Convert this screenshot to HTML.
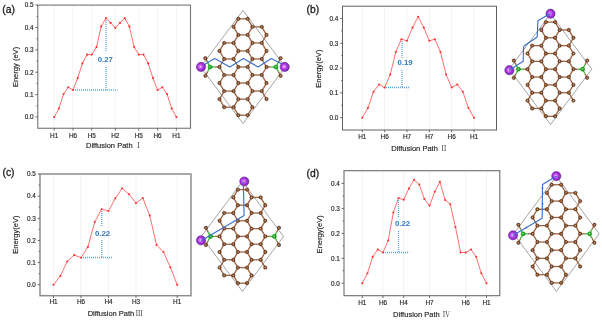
<!DOCTYPE html>
<html><head><meta charset="utf-8"><title>Diffusion paths</title>
<style>
html,body{margin:0;padding:0;background:#fff;}
body{width:602px;height:320px;overflow:hidden;}
svg{display:block;will-change:transform;font-family:'Liberation Sans', 'Noto Serif CJK SC', sans-serif;}
</style></head><body>
<svg width="602" height="320" viewBox="0 0 602 320">
<defs>
<radialGradient id="gc" cx="0.5" cy="0.5" r="0.55"><stop offset="0" stop-color="#e4bc9c"/><stop offset="0.3" stop-color="#ac6e44"/><stop offset="0.7" stop-color="#824a26"/><stop offset="1" stop-color="#5c3218"/></radialGradient>
<radialGradient id="gb" cx="0.45" cy="0.45" r="0.6"><stop offset="0" stop-color="#86e886"/><stop offset="0.45" stop-color="#27b927"/><stop offset="1" stop-color="#108210"/></radialGradient>
<radialGradient id="gp" cx="0.44" cy="0.48" r="0.62"><stop offset="0" stop-color="#ffdcff"/><stop offset="0.18" stop-color="#e27af6"/><stop offset="0.5" stop-color="#a634e0"/><stop offset="1" stop-color="#7a1fb6"/></radialGradient>
</defs>
<rect width="602" height="320" fill="#fff"/>
<g>
<line x1="54.2" y1="5.1" x2="54.2" y2="128.25" stroke="#eaeaea" stroke-width="0.6"/>
<line x1="73" y1="5.1" x2="73" y2="128.25" stroke="#eaeaea" stroke-width="0.6"/>
<line x1="91.8" y1="5.1" x2="91.8" y2="128.25" stroke="#eaeaea" stroke-width="0.6"/>
<line x1="115.3" y1="5.1" x2="115.3" y2="128.25" stroke="#eaeaea" stroke-width="0.6"/>
<line x1="138.8" y1="5.1" x2="138.8" y2="128.25" stroke="#eaeaea" stroke-width="0.6"/>
<line x1="157.6" y1="5.1" x2="157.6" y2="128.25" stroke="#eaeaea" stroke-width="0.6"/>
<line x1="176.4" y1="5.1" x2="176.4" y2="128.25" stroke="#eaeaea" stroke-width="0.6"/>
<line x1="73" y1="90.1" x2="117.5" y2="90.1" stroke="#5aa6e6" stroke-width="1.5" stroke-dasharray="1 1"/>
<line x1="106" y1="18" x2="106" y2="51.5" stroke="#5aa6e6" stroke-width="1.35" stroke-dasharray="1 1"/>
<line x1="106" y1="67" x2="106" y2="90.1" stroke="#5aa6e6" stroke-width="1.35" stroke-dasharray="1 1"/>
<text x="105.3" y="62" font-size="7.8" font-weight="bold" fill="#2f78be" text-anchor="middle">0.27</text>
<polyline fill="none" stroke="#ff4b4b" stroke-width="0.8" stroke-linejoin="round" points="54.2,117.1 58.9,108.5 63.6,94 68.3,87.3 73,90 77.7,78 82.4,63.4 87.1,54.6 91.8,54.6 96.5,47.1 101.2,26.4 105.9,18.1 110.6,22.9 115.3,27.9 120,22.9 124.7,18.1 129.4,26.4 134.1,47.1 138.8,54.6 143.5,54.6 148.2,63.4 152.9,78 157.6,90 162.3,87.3 167,94 171.7,108.5 176.4,117.1"/>
<circle cx="54.2" cy="117.1" r="1.05" fill="#ff2d2d"/>
<circle cx="58.9" cy="108.5" r="1.05" fill="#ff2d2d"/>
<circle cx="63.6" cy="94" r="1.05" fill="#ff2d2d"/>
<circle cx="68.3" cy="87.3" r="1.05" fill="#ff2d2d"/>
<circle cx="73" cy="90" r="1.05" fill="#ff2d2d"/>
<circle cx="77.7" cy="78" r="1.05" fill="#ff2d2d"/>
<circle cx="82.4" cy="63.4" r="1.05" fill="#ff2d2d"/>
<circle cx="87.1" cy="54.6" r="1.05" fill="#ff2d2d"/>
<circle cx="91.8" cy="54.6" r="1.05" fill="#ff2d2d"/>
<circle cx="96.5" cy="47.1" r="1.05" fill="#ff2d2d"/>
<circle cx="101.2" cy="26.4" r="1.05" fill="#ff2d2d"/>
<circle cx="105.9" cy="18.1" r="1.05" fill="#ff2d2d"/>
<circle cx="110.6" cy="22.9" r="1.05" fill="#ff2d2d"/>
<circle cx="115.3" cy="27.9" r="1.05" fill="#ff2d2d"/>
<circle cx="120" cy="22.9" r="1.05" fill="#ff2d2d"/>
<circle cx="124.7" cy="18.1" r="1.05" fill="#ff2d2d"/>
<circle cx="129.4" cy="26.4" r="1.05" fill="#ff2d2d"/>
<circle cx="134.1" cy="47.1" r="1.05" fill="#ff2d2d"/>
<circle cx="138.8" cy="54.6" r="1.05" fill="#ff2d2d"/>
<circle cx="143.5" cy="54.6" r="1.05" fill="#ff2d2d"/>
<circle cx="148.2" cy="63.4" r="1.05" fill="#ff2d2d"/>
<circle cx="152.9" cy="78" r="1.05" fill="#ff2d2d"/>
<circle cx="157.6" cy="90" r="1.05" fill="#ff2d2d"/>
<circle cx="162.3" cy="87.3" r="1.05" fill="#ff2d2d"/>
<circle cx="167" cy="94" r="1.05" fill="#ff2d2d"/>
<circle cx="171.7" cy="108.5" r="1.05" fill="#ff2d2d"/>
<circle cx="176.4" cy="117.1" r="1.05" fill="#ff2d2d"/>
<rect x="37.8" y="5.1" width="152.7" height="123.15" fill="none" stroke="#757575" stroke-width="1.1"/>
<line x1="35.4" y1="117" x2="37.8" y2="117" stroke="#5c5c5c" stroke-width="0.9"/>
<text x="33.6" y="119.3" font-size="6.4" fill="#242424" stroke="#242424" stroke-width="0.15" text-anchor="end">0.0</text>
<line x1="35.4" y1="94.63" x2="37.8" y2="94.63" stroke="#5c5c5c" stroke-width="0.9"/>
<text x="33.6" y="96.93" font-size="6.4" fill="#242424" stroke="#242424" stroke-width="0.15" text-anchor="end">0.1</text>
<line x1="35.4" y1="72.26" x2="37.8" y2="72.26" stroke="#5c5c5c" stroke-width="0.9"/>
<text x="33.6" y="74.56" font-size="6.4" fill="#242424" stroke="#242424" stroke-width="0.15" text-anchor="end">0.2</text>
<line x1="35.4" y1="49.89" x2="37.8" y2="49.89" stroke="#5c5c5c" stroke-width="0.9"/>
<text x="33.6" y="52.19" font-size="6.4" fill="#242424" stroke="#242424" stroke-width="0.15" text-anchor="end">0.3</text>
<line x1="35.4" y1="27.52" x2="37.8" y2="27.52" stroke="#5c5c5c" stroke-width="0.9"/>
<text x="33.6" y="29.82" font-size="6.4" fill="#242424" stroke="#242424" stroke-width="0.15" text-anchor="end">0.4</text>
<line x1="35.4" y1="5.15" x2="37.8" y2="5.15" stroke="#5c5c5c" stroke-width="0.9"/>
<text x="33.6" y="7.45" font-size="6.4" fill="#242424" stroke="#242424" stroke-width="0.15" text-anchor="end">0.5</text>
<line x1="36.4" y1="105.81" x2="37.8" y2="105.81" stroke="#5c5c5c" stroke-width="0.8"/>
<line x1="36.4" y1="83.44" x2="37.8" y2="83.44" stroke="#5c5c5c" stroke-width="0.8"/>
<line x1="36.4" y1="61.07" x2="37.8" y2="61.07" stroke="#5c5c5c" stroke-width="0.8"/>
<line x1="36.4" y1="38.7" x2="37.8" y2="38.7" stroke="#5c5c5c" stroke-width="0.8"/>
<line x1="36.4" y1="16.33" x2="37.8" y2="16.33" stroke="#5c5c5c" stroke-width="0.8"/>
<line x1="54.2" y1="128.25" x2="54.2" y2="130.55" stroke="#5c5c5c" stroke-width="0.9"/>
<text x="54.2" y="137.5" font-size="6.4" fill="#242424" stroke="#242424" stroke-width="0.15" text-anchor="middle">H1</text>
<line x1="73" y1="128.25" x2="73" y2="130.55" stroke="#5c5c5c" stroke-width="0.9"/>
<text x="73" y="137.5" font-size="6.4" fill="#242424" stroke="#242424" stroke-width="0.15" text-anchor="middle">H6</text>
<line x1="91.8" y1="128.25" x2="91.8" y2="130.55" stroke="#5c5c5c" stroke-width="0.9"/>
<text x="91.8" y="137.5" font-size="6.4" fill="#242424" stroke="#242424" stroke-width="0.15" text-anchor="middle">H5</text>
<line x1="115.3" y1="128.25" x2="115.3" y2="130.55" stroke="#5c5c5c" stroke-width="0.9"/>
<text x="115.3" y="137.5" font-size="6.4" fill="#242424" stroke="#242424" stroke-width="0.15" text-anchor="middle">H2</text>
<line x1="138.8" y1="128.25" x2="138.8" y2="130.55" stroke="#5c5c5c" stroke-width="0.9"/>
<text x="138.8" y="137.5" font-size="6.4" fill="#242424" stroke="#242424" stroke-width="0.15" text-anchor="middle">H5</text>
<line x1="157.6" y1="128.25" x2="157.6" y2="130.55" stroke="#5c5c5c" stroke-width="0.9"/>
<text x="157.6" y="137.5" font-size="6.4" fill="#242424" stroke="#242424" stroke-width="0.15" text-anchor="middle">H6</text>
<line x1="176.4" y1="128.25" x2="176.4" y2="130.55" stroke="#5c5c5c" stroke-width="0.9"/>
<text x="176.4" y="137.5" font-size="6.4" fill="#242424" stroke="#242424" stroke-width="0.15" text-anchor="middle">H1</text>
<text x="86" y="147.75" font-size="7.5" fill="#242424" stroke="#242424" stroke-width="0.15">Diffusion Path</text>
<text x="138.5" y="147.75" font-size="7.3" fill="#333" text-anchor="middle">Ⅰ</text>
<text transform="translate(17.9,66.97) rotate(-90)" font-size="7.55" fill="#242424" stroke="#242424" stroke-width="0.15" text-anchor="middle">Energy (eV)</text>
<text x="2.3" y="12.7" font-size="10.3" fill="#1c1c1c" stroke="#1c1c1c" stroke-width="0.3">(a)</text>
</g>
<g>
<line x1="362.3" y1="6.2" x2="362.3" y2="130" stroke="#eaeaea" stroke-width="0.6"/>
<line x1="384.64" y1="6.2" x2="384.64" y2="130" stroke="#eaeaea" stroke-width="0.6"/>
<line x1="406.98" y1="6.2" x2="406.98" y2="130" stroke="#eaeaea" stroke-width="0.6"/>
<line x1="429.32" y1="6.2" x2="429.32" y2="130" stroke="#eaeaea" stroke-width="0.6"/>
<line x1="451.66" y1="6.2" x2="451.66" y2="130" stroke="#eaeaea" stroke-width="0.6"/>
<line x1="474" y1="6.2" x2="474" y2="130" stroke="#eaeaea" stroke-width="0.6"/>
<line x1="384" y1="87.5" x2="409.25" y2="87.5" stroke="#5aa6e6" stroke-width="1.5" stroke-dasharray="1 1"/>
<line x1="402" y1="39" x2="402" y2="58" stroke="#5aa6e6" stroke-width="1.35" stroke-dasharray="1 1"/>
<line x1="402" y1="70" x2="402" y2="87.5" stroke="#5aa6e6" stroke-width="1.35" stroke-dasharray="1 1"/>
<text x="405.1" y="65.1" font-size="7.8" font-weight="bold" fill="#2f78be" text-anchor="middle">0.19</text>
<polyline fill="none" stroke="#ff4b4b" stroke-width="0.8" stroke-linejoin="round" points="362.3,117.75 367.88,108 373.47,91.75 379.06,84.5 384.64,87.5 390.23,74.5 395.81,52 401.39,39.25 406.98,40.75 412.56,27.5 418.15,16.75 423.74,27.5 429.32,40.75 434.9,39.25 440.49,52 446.07,74.5 451.66,87.5 457.25,84.5 462.83,91.75 468.41,108 474,117.75"/>
<circle cx="362.3" cy="117.75" r="1.05" fill="#ff2d2d"/>
<circle cx="367.88" cy="108" r="1.05" fill="#ff2d2d"/>
<circle cx="373.47" cy="91.75" r="1.05" fill="#ff2d2d"/>
<circle cx="379.06" cy="84.5" r="1.05" fill="#ff2d2d"/>
<circle cx="384.64" cy="87.5" r="1.05" fill="#ff2d2d"/>
<circle cx="390.23" cy="74.5" r="1.05" fill="#ff2d2d"/>
<circle cx="395.81" cy="52" r="1.05" fill="#ff2d2d"/>
<circle cx="401.39" cy="39.25" r="1.05" fill="#ff2d2d"/>
<circle cx="406.98" cy="40.75" r="1.05" fill="#ff2d2d"/>
<circle cx="412.56" cy="27.5" r="1.05" fill="#ff2d2d"/>
<circle cx="418.15" cy="16.75" r="1.05" fill="#ff2d2d"/>
<circle cx="423.74" cy="27.5" r="1.05" fill="#ff2d2d"/>
<circle cx="429.32" cy="40.75" r="1.05" fill="#ff2d2d"/>
<circle cx="434.9" cy="39.25" r="1.05" fill="#ff2d2d"/>
<circle cx="440.49" cy="52" r="1.05" fill="#ff2d2d"/>
<circle cx="446.07" cy="74.5" r="1.05" fill="#ff2d2d"/>
<circle cx="451.66" cy="87.5" r="1.05" fill="#ff2d2d"/>
<circle cx="457.25" cy="84.5" r="1.05" fill="#ff2d2d"/>
<circle cx="462.83" cy="91.75" r="1.05" fill="#ff2d2d"/>
<circle cx="468.41" cy="108" r="1.05" fill="#ff2d2d"/>
<circle cx="474" cy="117.75" r="1.05" fill="#ff2d2d"/>
<rect x="342.5" y="6.2" width="154" height="123.8" fill="none" stroke="#606060" stroke-width="1.0"/>
<line x1="340.1" y1="117.7" x2="342.5" y2="117.7" stroke="#5c5c5c" stroke-width="0.9"/>
<text x="338.3" y="120" font-size="6.4" fill="#242424" stroke="#242424" stroke-width="0.15" text-anchor="end">0.0</text>
<line x1="340.1" y1="92.9" x2="342.5" y2="92.9" stroke="#5c5c5c" stroke-width="0.9"/>
<text x="338.3" y="95.2" font-size="6.4" fill="#242424" stroke="#242424" stroke-width="0.15" text-anchor="end">0.1</text>
<line x1="340.1" y1="68.1" x2="342.5" y2="68.1" stroke="#5c5c5c" stroke-width="0.9"/>
<text x="338.3" y="70.4" font-size="6.4" fill="#242424" stroke="#242424" stroke-width="0.15" text-anchor="end">0.2</text>
<line x1="340.1" y1="43.3" x2="342.5" y2="43.3" stroke="#5c5c5c" stroke-width="0.9"/>
<text x="338.3" y="45.6" font-size="6.4" fill="#242424" stroke="#242424" stroke-width="0.15" text-anchor="end">0.3</text>
<line x1="340.1" y1="18.5" x2="342.5" y2="18.5" stroke="#5c5c5c" stroke-width="0.9"/>
<text x="338.3" y="20.8" font-size="6.4" fill="#242424" stroke="#242424" stroke-width="0.15" text-anchor="end">0.4</text>
<line x1="341.1" y1="105.3" x2="342.5" y2="105.3" stroke="#5c5c5c" stroke-width="0.8"/>
<line x1="341.1" y1="80.5" x2="342.5" y2="80.5" stroke="#5c5c5c" stroke-width="0.8"/>
<line x1="341.1" y1="55.7" x2="342.5" y2="55.7" stroke="#5c5c5c" stroke-width="0.8"/>
<line x1="341.1" y1="30.9" x2="342.5" y2="30.9" stroke="#5c5c5c" stroke-width="0.8"/>
<line x1="362.3" y1="130" x2="362.3" y2="132.3" stroke="#5c5c5c" stroke-width="0.9"/>
<text x="362.3" y="139.25" font-size="6.4" fill="#242424" stroke="#242424" stroke-width="0.15" text-anchor="middle">H1</text>
<line x1="384.64" y1="130" x2="384.64" y2="132.3" stroke="#5c5c5c" stroke-width="0.9"/>
<text x="384.64" y="139.25" font-size="6.4" fill="#242424" stroke="#242424" stroke-width="0.15" text-anchor="middle">H6</text>
<line x1="406.98" y1="130" x2="406.98" y2="132.3" stroke="#5c5c5c" stroke-width="0.9"/>
<text x="406.98" y="139.25" font-size="6.4" fill="#242424" stroke="#242424" stroke-width="0.15" text-anchor="middle">H7</text>
<line x1="429.32" y1="130" x2="429.32" y2="132.3" stroke="#5c5c5c" stroke-width="0.9"/>
<text x="429.32" y="139.25" font-size="6.4" fill="#242424" stroke="#242424" stroke-width="0.15" text-anchor="middle">H7</text>
<line x1="451.66" y1="130" x2="451.66" y2="132.3" stroke="#5c5c5c" stroke-width="0.9"/>
<text x="451.66" y="139.25" font-size="6.4" fill="#242424" stroke="#242424" stroke-width="0.15" text-anchor="middle">H6</text>
<line x1="474" y1="130" x2="474" y2="132.3" stroke="#5c5c5c" stroke-width="0.9"/>
<text x="474" y="139.25" font-size="6.4" fill="#242424" stroke="#242424" stroke-width="0.15" text-anchor="middle">H1</text>
<text x="391.25" y="151.1" font-size="7.5" fill="#242424" stroke="#242424" stroke-width="0.15">Diffusion Path</text>
<text x="444" y="151.1" font-size="7.3" fill="#333" text-anchor="middle">Ⅱ</text>
<text transform="translate(320.6,68.7) rotate(-90)" font-size="7.55" fill="#242424" stroke="#242424" stroke-width="0.15" text-anchor="middle">Energy(eV)</text>
<text x="306.5" y="13" font-size="10.3" fill="#1c1c1c" stroke="#1c1c1c" stroke-width="0.3">(b)</text>
</g>
<g>
<line x1="53.5" y1="174" x2="53.5" y2="295.7" stroke="#eaeaea" stroke-width="0.6"/>
<line x1="80.99" y1="174" x2="80.99" y2="295.7" stroke="#eaeaea" stroke-width="0.6"/>
<line x1="108.48" y1="174" x2="108.48" y2="295.7" stroke="#eaeaea" stroke-width="0.6"/>
<line x1="135.97" y1="174" x2="135.97" y2="295.7" stroke="#eaeaea" stroke-width="0.6"/>
<line x1="177.2" y1="174" x2="177.2" y2="295.7" stroke="#eaeaea" stroke-width="0.6"/>
<line x1="81" y1="257.5" x2="113" y2="257.5" stroke="#5aa6e6" stroke-width="1.5" stroke-dasharray="1 1"/>
<line x1="101.75" y1="209" x2="101.75" y2="227" stroke="#5aa6e6" stroke-width="1.35" stroke-dasharray="1 1"/>
<line x1="101.75" y1="240" x2="101.75" y2="257.5" stroke="#5aa6e6" stroke-width="1.35" stroke-dasharray="1 1"/>
<text x="102.5" y="236.2" font-size="7.8" font-weight="bold" fill="#2f78be" text-anchor="middle">0.22</text>
<polyline fill="none" stroke="#ff4b4b" stroke-width="0.8" stroke-linejoin="round" points="53.5,284.8 60.37,276 67.24,261.5 74.12,255 80.99,257.7 87.86,247 94.73,222 101.61,209.2 108.48,211 115.35,198.3 122.22,188.3 129.09,194.3 135.97,203 142.84,198 149.71,215.5 156.58,245 163.46,252 170.33,267.2 177.2,284.8"/>
<circle cx="53.5" cy="284.8" r="1.05" fill="#ff2d2d"/>
<circle cx="60.37" cy="276" r="1.05" fill="#ff2d2d"/>
<circle cx="67.24" cy="261.5" r="1.05" fill="#ff2d2d"/>
<circle cx="74.12" cy="255" r="1.05" fill="#ff2d2d"/>
<circle cx="80.99" cy="257.7" r="1.05" fill="#ff2d2d"/>
<circle cx="87.86" cy="247" r="1.05" fill="#ff2d2d"/>
<circle cx="94.73" cy="222" r="1.05" fill="#ff2d2d"/>
<circle cx="101.61" cy="209.2" r="1.05" fill="#ff2d2d"/>
<circle cx="108.48" cy="211" r="1.05" fill="#ff2d2d"/>
<circle cx="115.35" cy="198.3" r="1.05" fill="#ff2d2d"/>
<circle cx="122.22" cy="188.3" r="1.05" fill="#ff2d2d"/>
<circle cx="129.09" cy="194.3" r="1.05" fill="#ff2d2d"/>
<circle cx="135.97" cy="203" r="1.05" fill="#ff2d2d"/>
<circle cx="142.84" cy="198" r="1.05" fill="#ff2d2d"/>
<circle cx="149.71" cy="215.5" r="1.05" fill="#ff2d2d"/>
<circle cx="156.58" cy="245" r="1.05" fill="#ff2d2d"/>
<circle cx="163.46" cy="252" r="1.05" fill="#ff2d2d"/>
<circle cx="170.33" cy="267.2" r="1.05" fill="#ff2d2d"/>
<circle cx="177.2" cy="284.8" r="1.05" fill="#ff2d2d"/>
<rect x="40" y="174" width="151" height="121.7" fill="none" stroke="#8a8a8a" stroke-width="1.45"/>
<line x1="37.6" y1="284.7" x2="40" y2="284.7" stroke="#5c5c5c" stroke-width="0.9"/>
<text x="35.8" y="287" font-size="6.4" fill="#242424" stroke="#242424" stroke-width="0.15" text-anchor="end">0.0</text>
<line x1="37.6" y1="262.56" x2="40" y2="262.56" stroke="#5c5c5c" stroke-width="0.9"/>
<text x="35.8" y="264.86" font-size="6.4" fill="#242424" stroke="#242424" stroke-width="0.15" text-anchor="end">0.1</text>
<line x1="37.6" y1="240.42" x2="40" y2="240.42" stroke="#5c5c5c" stroke-width="0.9"/>
<text x="35.8" y="242.72" font-size="6.4" fill="#242424" stroke="#242424" stroke-width="0.15" text-anchor="end">0.2</text>
<line x1="37.6" y1="218.28" x2="40" y2="218.28" stroke="#5c5c5c" stroke-width="0.9"/>
<text x="35.8" y="220.58" font-size="6.4" fill="#242424" stroke="#242424" stroke-width="0.15" text-anchor="end">0.3</text>
<line x1="37.6" y1="196.14" x2="40" y2="196.14" stroke="#5c5c5c" stroke-width="0.9"/>
<text x="35.8" y="198.44" font-size="6.4" fill="#242424" stroke="#242424" stroke-width="0.15" text-anchor="end">0.4</text>
<line x1="37.6" y1="174" x2="40" y2="174" stroke="#5c5c5c" stroke-width="0.9"/>
<text x="35.8" y="176.3" font-size="6.4" fill="#242424" stroke="#242424" stroke-width="0.15" text-anchor="end">0.5</text>
<line x1="38.6" y1="273.63" x2="40" y2="273.63" stroke="#5c5c5c" stroke-width="0.8"/>
<line x1="38.6" y1="251.49" x2="40" y2="251.49" stroke="#5c5c5c" stroke-width="0.8"/>
<line x1="38.6" y1="229.35" x2="40" y2="229.35" stroke="#5c5c5c" stroke-width="0.8"/>
<line x1="38.6" y1="207.21" x2="40" y2="207.21" stroke="#5c5c5c" stroke-width="0.8"/>
<line x1="38.6" y1="185.07" x2="40" y2="185.07" stroke="#5c5c5c" stroke-width="0.8"/>
<line x1="53.5" y1="295.7" x2="53.5" y2="298" stroke="#5c5c5c" stroke-width="0.9"/>
<text x="53.5" y="304.3" font-size="6.4" fill="#242424" stroke="#242424" stroke-width="0.15" text-anchor="middle">H1</text>
<line x1="80.99" y1="295.7" x2="80.99" y2="298" stroke="#5c5c5c" stroke-width="0.9"/>
<text x="80.99" y="304.3" font-size="6.4" fill="#242424" stroke="#242424" stroke-width="0.15" text-anchor="middle">H6</text>
<line x1="108.48" y1="295.7" x2="108.48" y2="298" stroke="#5c5c5c" stroke-width="0.9"/>
<text x="108.48" y="304.3" font-size="6.4" fill="#242424" stroke="#242424" stroke-width="0.15" text-anchor="middle">H4</text>
<line x1="135.97" y1="295.7" x2="135.97" y2="298" stroke="#5c5c5c" stroke-width="0.9"/>
<text x="135.97" y="304.3" font-size="6.4" fill="#242424" stroke="#242424" stroke-width="0.15" text-anchor="middle">H3</text>
<line x1="177.2" y1="295.7" x2="177.2" y2="298" stroke="#5c5c5c" stroke-width="0.9"/>
<text x="177.2" y="304.3" font-size="6.4" fill="#242424" stroke="#242424" stroke-width="0.15" text-anchor="middle">H1</text>
<text x="87.7" y="316.15" font-size="7.5" fill="#242424" stroke="#242424" stroke-width="0.15">Diffusion Path</text>
<text x="139.2" y="316.15" font-size="7.3" fill="#333" text-anchor="middle">Ⅲ</text>
<text transform="translate(18.4,234.65) rotate(-90)" font-size="7.55" fill="#242424" stroke="#242424" stroke-width="0.15" text-anchor="middle">Energy(eV)</text>
<text x="2.5" y="176.4" font-size="10.3" fill="#1c1c1c" stroke="#1c1c1c" stroke-width="0.3">(c)</text>
</g>
<g>
<line x1="362.3" y1="170.7" x2="362.3" y2="295.7" stroke="#eaeaea" stroke-width="0.6"/>
<line x1="383" y1="170.7" x2="383" y2="295.7" stroke="#eaeaea" stroke-width="0.6"/>
<line x1="403.7" y1="170.7" x2="403.7" y2="295.7" stroke="#eaeaea" stroke-width="0.6"/>
<line x1="429.57" y1="170.7" x2="429.57" y2="295.7" stroke="#eaeaea" stroke-width="0.6"/>
<line x1="465.8" y1="170.7" x2="465.8" y2="295.7" stroke="#eaeaea" stroke-width="0.6"/>
<line x1="486.5" y1="170.7" x2="486.5" y2="295.7" stroke="#eaeaea" stroke-width="0.6"/>
<line x1="383" y1="252.5" x2="409.25" y2="252.5" stroke="#5aa6e6" stroke-width="1.5" stroke-dasharray="1 1"/>
<line x1="398.5" y1="198" x2="398.5" y2="217" stroke="#5aa6e6" stroke-width="1.35" stroke-dasharray="1 1"/>
<line x1="398.5" y1="231" x2="398.5" y2="252.5" stroke="#5aa6e6" stroke-width="1.35" stroke-dasharray="1 1"/>
<text x="402.5" y="226.1" font-size="7.8" font-weight="bold" fill="#2f78be" text-anchor="middle">0.22</text>
<polyline fill="none" stroke="#ff4b4b" stroke-width="0.8" stroke-linejoin="round" points="362.3,283.25 367.48,273.25 372.65,256.75 377.82,249.5 383,252.5 388.18,240.5 393.35,212.5 398.53,198 403.7,199.75 408.88,188.5 414.05,179.75 419.23,184.5 424.4,199 429.57,205.75 434.75,191.75 439.93,181.75 445.1,200 450.27,204.25 455.45,227 460.62,252.5 465.8,252.5 470.98,249.5 476.15,256.75 481.32,273.25 486.5,283.25"/>
<circle cx="362.3" cy="283.25" r="1.05" fill="#ff2d2d"/>
<circle cx="367.48" cy="273.25" r="1.05" fill="#ff2d2d"/>
<circle cx="372.65" cy="256.75" r="1.05" fill="#ff2d2d"/>
<circle cx="377.82" cy="249.5" r="1.05" fill="#ff2d2d"/>
<circle cx="383" cy="252.5" r="1.05" fill="#ff2d2d"/>
<circle cx="388.18" cy="240.5" r="1.05" fill="#ff2d2d"/>
<circle cx="393.35" cy="212.5" r="1.05" fill="#ff2d2d"/>
<circle cx="398.53" cy="198" r="1.05" fill="#ff2d2d"/>
<circle cx="403.7" cy="199.75" r="1.05" fill="#ff2d2d"/>
<circle cx="408.88" cy="188.5" r="1.05" fill="#ff2d2d"/>
<circle cx="414.05" cy="179.75" r="1.05" fill="#ff2d2d"/>
<circle cx="419.23" cy="184.5" r="1.05" fill="#ff2d2d"/>
<circle cx="424.4" cy="199" r="1.05" fill="#ff2d2d"/>
<circle cx="429.57" cy="205.75" r="1.05" fill="#ff2d2d"/>
<circle cx="434.75" cy="191.75" r="1.05" fill="#ff2d2d"/>
<circle cx="439.93" cy="181.75" r="1.05" fill="#ff2d2d"/>
<circle cx="445.1" cy="200" r="1.05" fill="#ff2d2d"/>
<circle cx="450.27" cy="204.25" r="1.05" fill="#ff2d2d"/>
<circle cx="455.45" cy="227" r="1.05" fill="#ff2d2d"/>
<circle cx="460.62" cy="252.5" r="1.05" fill="#ff2d2d"/>
<circle cx="465.8" cy="252.5" r="1.05" fill="#ff2d2d"/>
<circle cx="470.98" cy="249.5" r="1.05" fill="#ff2d2d"/>
<circle cx="476.15" cy="256.75" r="1.05" fill="#ff2d2d"/>
<circle cx="481.32" cy="273.25" r="1.05" fill="#ff2d2d"/>
<circle cx="486.5" cy="283.25" r="1.05" fill="#ff2d2d"/>
<rect x="344" y="170.7" width="155.8" height="125" fill="none" stroke="#6c6c6c" stroke-width="1.1"/>
<line x1="341.6" y1="283.2" x2="344" y2="283.2" stroke="#5c5c5c" stroke-width="0.9"/>
<text x="339.8" y="285.5" font-size="6.4" fill="#242424" stroke="#242424" stroke-width="0.15" text-anchor="end">0.0</text>
<line x1="341.6" y1="258.27" x2="344" y2="258.27" stroke="#5c5c5c" stroke-width="0.9"/>
<text x="339.8" y="260.57" font-size="6.4" fill="#242424" stroke="#242424" stroke-width="0.15" text-anchor="end">0.1</text>
<line x1="341.6" y1="233.34" x2="344" y2="233.34" stroke="#5c5c5c" stroke-width="0.9"/>
<text x="339.8" y="235.64" font-size="6.4" fill="#242424" stroke="#242424" stroke-width="0.15" text-anchor="end">0.2</text>
<line x1="341.6" y1="208.41" x2="344" y2="208.41" stroke="#5c5c5c" stroke-width="0.9"/>
<text x="339.8" y="210.71" font-size="6.4" fill="#242424" stroke="#242424" stroke-width="0.15" text-anchor="end">0.3</text>
<line x1="341.6" y1="183.48" x2="344" y2="183.48" stroke="#5c5c5c" stroke-width="0.9"/>
<text x="339.8" y="185.78" font-size="6.4" fill="#242424" stroke="#242424" stroke-width="0.15" text-anchor="end">0.4</text>
<line x1="342.6" y1="270.74" x2="344" y2="270.74" stroke="#5c5c5c" stroke-width="0.8"/>
<line x1="342.6" y1="245.81" x2="344" y2="245.81" stroke="#5c5c5c" stroke-width="0.8"/>
<line x1="342.6" y1="220.88" x2="344" y2="220.88" stroke="#5c5c5c" stroke-width="0.8"/>
<line x1="342.6" y1="195.94" x2="344" y2="195.94" stroke="#5c5c5c" stroke-width="0.8"/>
<line x1="362.3" y1="295.7" x2="362.3" y2="298" stroke="#5c5c5c" stroke-width="0.9"/>
<text x="362.3" y="304.6" font-size="6.4" fill="#242424" stroke="#242424" stroke-width="0.15" text-anchor="middle">H1</text>
<line x1="383" y1="295.7" x2="383" y2="298" stroke="#5c5c5c" stroke-width="0.9"/>
<text x="383" y="304.6" font-size="6.4" fill="#242424" stroke="#242424" stroke-width="0.15" text-anchor="middle">H6</text>
<line x1="403.7" y1="295.7" x2="403.7" y2="298" stroke="#5c5c5c" stroke-width="0.9"/>
<text x="403.7" y="304.6" font-size="6.4" fill="#242424" stroke="#242424" stroke-width="0.15" text-anchor="middle">H4</text>
<line x1="429.57" y1="295.7" x2="429.57" y2="298" stroke="#5c5c5c" stroke-width="0.9"/>
<text x="429.57" y="304.6" font-size="6.4" fill="#242424" stroke="#242424" stroke-width="0.15" text-anchor="middle">H7</text>
<line x1="465.8" y1="295.7" x2="465.8" y2="298" stroke="#5c5c5c" stroke-width="0.9"/>
<text x="465.8" y="304.6" font-size="6.4" fill="#242424" stroke="#242424" stroke-width="0.15" text-anchor="middle">H6</text>
<line x1="486.5" y1="295.7" x2="486.5" y2="298" stroke="#5c5c5c" stroke-width="0.9"/>
<text x="486.5" y="304.6" font-size="6.4" fill="#242424" stroke="#242424" stroke-width="0.15" text-anchor="middle">H1</text>
<text x="393.1" y="316.8" font-size="7.5" fill="#242424" stroke="#242424" stroke-width="0.15">Diffusion Path</text>
<text x="446.5" y="316.8" font-size="7.3" fill="#333" text-anchor="middle">Ⅳ</text>
<text transform="translate(322.4,234.3) rotate(-90)" font-size="7.55" fill="#242424" stroke="#242424" stroke-width="0.15" text-anchor="middle">Energy(eV)</text>
<text x="306.5" y="177" font-size="10.3" fill="#1c1c1c" stroke="#1c1c1c" stroke-width="0.3">(d)</text>
</g>
<g>
<polygon points="243,10.39 285.3,67 243,123.61 200.7,67" fill="none" stroke="#5a5a5a" stroke-width="0.55"/>
<line x1="238.3" y1="18.82" x2="247.7" y2="18.82" stroke="#9c6442" stroke-width="1.3"/>
<line x1="238.3" y1="18.82" x2="233.6" y2="26.85" stroke="#9c6442" stroke-width="1.3"/>
<line x1="247.7" y1="18.82" x2="252.4" y2="26.85" stroke="#9c6442" stroke-width="1.3"/>
<line x1="233.6" y1="26.85" x2="238.3" y2="34.88" stroke="#9c6442" stroke-width="1.3"/>
<line x1="252.4" y1="26.85" x2="261.8" y2="26.85" stroke="#9c6442" stroke-width="1.3"/>
<line x1="252.4" y1="26.85" x2="247.7" y2="34.88" stroke="#9c6442" stroke-width="1.3"/>
<line x1="261.8" y1="26.85" x2="266.5" y2="34.88" stroke="#9c6442" stroke-width="1.3"/>
<line x1="238.3" y1="34.88" x2="247.7" y2="34.88" stroke="#9c6442" stroke-width="1.3"/>
<line x1="238.3" y1="34.88" x2="233.6" y2="42.91" stroke="#9c6442" stroke-width="1.3"/>
<line x1="247.7" y1="34.88" x2="252.4" y2="42.91" stroke="#9c6442" stroke-width="1.3"/>
<line x1="266.5" y1="34.88" x2="261.8" y2="42.91" stroke="#9c6442" stroke-width="1.3"/>
<line x1="224.2" y1="42.91" x2="233.6" y2="42.91" stroke="#9c6442" stroke-width="1.3"/>
<line x1="224.2" y1="42.91" x2="219.5" y2="50.94" stroke="#9c6442" stroke-width="1.3"/>
<line x1="233.6" y1="42.91" x2="238.3" y2="50.94" stroke="#9c6442" stroke-width="1.3"/>
<line x1="252.4" y1="42.91" x2="261.8" y2="42.91" stroke="#9c6442" stroke-width="1.3"/>
<line x1="252.4" y1="42.91" x2="247.7" y2="50.94" stroke="#9c6442" stroke-width="1.3"/>
<line x1="261.8" y1="42.91" x2="266.5" y2="50.94" stroke="#9c6442" stroke-width="1.3"/>
<line x1="219.5" y1="50.94" x2="224.2" y2="58.97" stroke="#9c6442" stroke-width="1.3"/>
<line x1="238.3" y1="50.94" x2="247.7" y2="50.94" stroke="#9c6442" stroke-width="1.3"/>
<line x1="238.3" y1="50.94" x2="233.6" y2="58.97" stroke="#9c6442" stroke-width="1.3"/>
<line x1="247.7" y1="50.94" x2="252.4" y2="58.97" stroke="#9c6442" stroke-width="1.3"/>
<line x1="266.5" y1="50.94" x2="261.8" y2="58.97" stroke="#9c6442" stroke-width="1.3"/>
<line x1="205.4" y1="58.17" x2="207.75" y2="62.59" stroke="#9c6442" stroke-width="1.3"/>
<line x1="207.75" y1="62.59" x2="210.1" y2="67" stroke="#33c233" stroke-width="1.3"/>
<line x1="224.2" y1="58.97" x2="233.6" y2="58.97" stroke="#9c6442" stroke-width="1.3"/>
<line x1="224.2" y1="58.97" x2="219.5" y2="67" stroke="#9c6442" stroke-width="1.3"/>
<line x1="233.6" y1="58.97" x2="238.3" y2="67" stroke="#9c6442" stroke-width="1.3"/>
<line x1="252.4" y1="58.97" x2="261.8" y2="58.97" stroke="#9c6442" stroke-width="1.3"/>
<line x1="252.4" y1="58.97" x2="247.7" y2="67" stroke="#9c6442" stroke-width="1.3"/>
<line x1="261.8" y1="58.97" x2="266.5" y2="67" stroke="#9c6442" stroke-width="1.3"/>
<line x1="280.6" y1="58.17" x2="278.25" y2="62.59" stroke="#9c6442" stroke-width="1.3"/>
<line x1="278.25" y1="62.59" x2="275.9" y2="67" stroke="#33c233" stroke-width="1.3"/>
<line x1="219.5" y1="67" x2="224.2" y2="75.03" stroke="#9c6442" stroke-width="1.3"/>
<line x1="219.5" y1="67" x2="214.8" y2="67" stroke="#9c6442" stroke-width="1.3"/>
<line x1="214.8" y1="67" x2="210.1" y2="67" stroke="#33c233" stroke-width="1.3"/>
<line x1="238.3" y1="67" x2="247.7" y2="67" stroke="#9c6442" stroke-width="1.3"/>
<line x1="238.3" y1="67" x2="233.6" y2="75.03" stroke="#9c6442" stroke-width="1.3"/>
<line x1="247.7" y1="67" x2="252.4" y2="75.03" stroke="#9c6442" stroke-width="1.3"/>
<line x1="266.5" y1="67" x2="261.8" y2="75.03" stroke="#9c6442" stroke-width="1.3"/>
<line x1="266.5" y1="67" x2="271.2" y2="67" stroke="#9c6442" stroke-width="1.3"/>
<line x1="271.2" y1="67" x2="275.9" y2="67" stroke="#33c233" stroke-width="1.3"/>
<line x1="205.4" y1="75.83" x2="207.75" y2="71.41" stroke="#9c6442" stroke-width="1.3"/>
<line x1="207.75" y1="71.41" x2="210.1" y2="67" stroke="#33c233" stroke-width="1.3"/>
<line x1="224.2" y1="75.03" x2="233.6" y2="75.03" stroke="#9c6442" stroke-width="1.3"/>
<line x1="224.2" y1="75.03" x2="219.5" y2="83.06" stroke="#9c6442" stroke-width="1.3"/>
<line x1="233.6" y1="75.03" x2="238.3" y2="83.06" stroke="#9c6442" stroke-width="1.3"/>
<line x1="252.4" y1="75.03" x2="261.8" y2="75.03" stroke="#9c6442" stroke-width="1.3"/>
<line x1="252.4" y1="75.03" x2="247.7" y2="83.06" stroke="#9c6442" stroke-width="1.3"/>
<line x1="261.8" y1="75.03" x2="266.5" y2="83.06" stroke="#9c6442" stroke-width="1.3"/>
<line x1="280.6" y1="75.83" x2="278.25" y2="71.41" stroke="#9c6442" stroke-width="1.3"/>
<line x1="278.25" y1="71.41" x2="275.9" y2="67" stroke="#33c233" stroke-width="1.3"/>
<line x1="219.5" y1="83.06" x2="224.2" y2="91.09" stroke="#9c6442" stroke-width="1.3"/>
<line x1="238.3" y1="83.06" x2="247.7" y2="83.06" stroke="#9c6442" stroke-width="1.3"/>
<line x1="238.3" y1="83.06" x2="233.6" y2="91.09" stroke="#9c6442" stroke-width="1.3"/>
<line x1="247.7" y1="83.06" x2="252.4" y2="91.09" stroke="#9c6442" stroke-width="1.3"/>
<line x1="266.5" y1="83.06" x2="261.8" y2="91.09" stroke="#9c6442" stroke-width="1.3"/>
<line x1="224.2" y1="91.09" x2="233.6" y2="91.09" stroke="#9c6442" stroke-width="1.3"/>
<line x1="224.2" y1="91.09" x2="219.5" y2="99.12" stroke="#9c6442" stroke-width="1.3"/>
<line x1="233.6" y1="91.09" x2="238.3" y2="99.12" stroke="#9c6442" stroke-width="1.3"/>
<line x1="252.4" y1="91.09" x2="261.8" y2="91.09" stroke="#9c6442" stroke-width="1.3"/>
<line x1="252.4" y1="91.09" x2="247.7" y2="99.12" stroke="#9c6442" stroke-width="1.3"/>
<line x1="261.8" y1="91.09" x2="266.5" y2="99.12" stroke="#9c6442" stroke-width="1.3"/>
<line x1="219.5" y1="99.12" x2="224.2" y2="107.15" stroke="#9c6442" stroke-width="1.3"/>
<line x1="238.3" y1="99.12" x2="247.7" y2="99.12" stroke="#9c6442" stroke-width="1.3"/>
<line x1="238.3" y1="99.12" x2="233.6" y2="107.15" stroke="#9c6442" stroke-width="1.3"/>
<line x1="247.7" y1="99.12" x2="252.4" y2="107.15" stroke="#9c6442" stroke-width="1.3"/>
<line x1="224.2" y1="107.15" x2="233.6" y2="107.15" stroke="#9c6442" stroke-width="1.3"/>
<line x1="233.6" y1="107.15" x2="238.3" y2="115.18" stroke="#9c6442" stroke-width="1.3"/>
<line x1="252.4" y1="107.15" x2="247.7" y2="115.18" stroke="#9c6442" stroke-width="1.3"/>
<line x1="238.3" y1="115.18" x2="247.7" y2="115.18" stroke="#9c6442" stroke-width="1.3"/>
<circle cx="238.3" cy="18.82" r="1.7" fill="url(#gc)" stroke="#40220e" stroke-width="0.5"/>
<circle cx="247.7" cy="18.82" r="1.7" fill="url(#gc)" stroke="#40220e" stroke-width="0.5"/>
<circle cx="233.6" cy="26.85" r="1.7" fill="url(#gc)" stroke="#40220e" stroke-width="0.5"/>
<circle cx="252.4" cy="26.85" r="1.7" fill="url(#gc)" stroke="#40220e" stroke-width="0.5"/>
<circle cx="261.8" cy="26.85" r="1.7" fill="url(#gc)" stroke="#40220e" stroke-width="0.5"/>
<circle cx="238.3" cy="34.88" r="1.7" fill="url(#gc)" stroke="#40220e" stroke-width="0.5"/>
<circle cx="247.7" cy="34.88" r="1.7" fill="url(#gc)" stroke="#40220e" stroke-width="0.5"/>
<circle cx="266.5" cy="34.88" r="1.7" fill="url(#gc)" stroke="#40220e" stroke-width="0.5"/>
<circle cx="224.2" cy="42.91" r="1.7" fill="url(#gc)" stroke="#40220e" stroke-width="0.5"/>
<circle cx="233.6" cy="42.91" r="1.7" fill="url(#gc)" stroke="#40220e" stroke-width="0.5"/>
<circle cx="252.4" cy="42.91" r="1.7" fill="url(#gc)" stroke="#40220e" stroke-width="0.5"/>
<circle cx="261.8" cy="42.91" r="1.7" fill="url(#gc)" stroke="#40220e" stroke-width="0.5"/>
<circle cx="219.5" cy="50.94" r="1.7" fill="url(#gc)" stroke="#40220e" stroke-width="0.5"/>
<circle cx="238.3" cy="50.94" r="1.7" fill="url(#gc)" stroke="#40220e" stroke-width="0.5"/>
<circle cx="247.7" cy="50.94" r="1.7" fill="url(#gc)" stroke="#40220e" stroke-width="0.5"/>
<circle cx="266.5" cy="50.94" r="1.7" fill="url(#gc)" stroke="#40220e" stroke-width="0.5"/>
<circle cx="205.4" cy="58.17" r="1.7" fill="url(#gc)" stroke="#40220e" stroke-width="0.5"/>
<circle cx="224.2" cy="58.97" r="1.7" fill="url(#gc)" stroke="#40220e" stroke-width="0.5"/>
<circle cx="233.6" cy="58.97" r="1.7" fill="url(#gc)" stroke="#40220e" stroke-width="0.5"/>
<circle cx="252.4" cy="58.97" r="1.7" fill="url(#gc)" stroke="#40220e" stroke-width="0.5"/>
<circle cx="261.8" cy="58.97" r="1.7" fill="url(#gc)" stroke="#40220e" stroke-width="0.5"/>
<circle cx="280.6" cy="58.17" r="1.7" fill="url(#gc)" stroke="#40220e" stroke-width="0.5"/>
<circle cx="219.5" cy="67" r="1.7" fill="url(#gc)" stroke="#40220e" stroke-width="0.5"/>
<circle cx="238.3" cy="67" r="1.7" fill="url(#gc)" stroke="#40220e" stroke-width="0.5"/>
<circle cx="247.7" cy="67" r="1.7" fill="url(#gc)" stroke="#40220e" stroke-width="0.5"/>
<circle cx="266.5" cy="67" r="1.7" fill="url(#gc)" stroke="#40220e" stroke-width="0.5"/>
<circle cx="205.4" cy="75.83" r="1.7" fill="url(#gc)" stroke="#40220e" stroke-width="0.5"/>
<circle cx="224.2" cy="75.03" r="1.7" fill="url(#gc)" stroke="#40220e" stroke-width="0.5"/>
<circle cx="233.6" cy="75.03" r="1.7" fill="url(#gc)" stroke="#40220e" stroke-width="0.5"/>
<circle cx="252.4" cy="75.03" r="1.7" fill="url(#gc)" stroke="#40220e" stroke-width="0.5"/>
<circle cx="261.8" cy="75.03" r="1.7" fill="url(#gc)" stroke="#40220e" stroke-width="0.5"/>
<circle cx="280.6" cy="75.83" r="1.7" fill="url(#gc)" stroke="#40220e" stroke-width="0.5"/>
<circle cx="219.5" cy="83.06" r="1.7" fill="url(#gc)" stroke="#40220e" stroke-width="0.5"/>
<circle cx="238.3" cy="83.06" r="1.7" fill="url(#gc)" stroke="#40220e" stroke-width="0.5"/>
<circle cx="247.7" cy="83.06" r="1.7" fill="url(#gc)" stroke="#40220e" stroke-width="0.5"/>
<circle cx="266.5" cy="83.06" r="1.7" fill="url(#gc)" stroke="#40220e" stroke-width="0.5"/>
<circle cx="224.2" cy="91.09" r="1.7" fill="url(#gc)" stroke="#40220e" stroke-width="0.5"/>
<circle cx="233.6" cy="91.09" r="1.7" fill="url(#gc)" stroke="#40220e" stroke-width="0.5"/>
<circle cx="252.4" cy="91.09" r="1.7" fill="url(#gc)" stroke="#40220e" stroke-width="0.5"/>
<circle cx="261.8" cy="91.09" r="1.7" fill="url(#gc)" stroke="#40220e" stroke-width="0.5"/>
<circle cx="219.5" cy="99.12" r="1.7" fill="url(#gc)" stroke="#40220e" stroke-width="0.5"/>
<circle cx="238.3" cy="99.12" r="1.7" fill="url(#gc)" stroke="#40220e" stroke-width="0.5"/>
<circle cx="247.7" cy="99.12" r="1.7" fill="url(#gc)" stroke="#40220e" stroke-width="0.5"/>
<circle cx="266.5" cy="99.12" r="1.7" fill="url(#gc)" stroke="#40220e" stroke-width="0.5"/>
<circle cx="224.2" cy="107.15" r="1.7" fill="url(#gc)" stroke="#40220e" stroke-width="0.5"/>
<circle cx="233.6" cy="107.15" r="1.7" fill="url(#gc)" stroke="#40220e" stroke-width="0.5"/>
<circle cx="252.4" cy="107.15" r="1.7" fill="url(#gc)" stroke="#40220e" stroke-width="0.5"/>
<circle cx="238.3" cy="115.18" r="1.7" fill="url(#gc)" stroke="#40220e" stroke-width="0.5"/>
<circle cx="247.7" cy="115.18" r="1.7" fill="url(#gc)" stroke="#40220e" stroke-width="0.5"/>
<circle cx="210.1" cy="67" r="2.1" fill="url(#gb)" stroke="#0d6a0d" stroke-width="0.35"/>
<circle cx="275.9" cy="67" r="2.1" fill="url(#gb)" stroke="#0d6a0d" stroke-width="0.35"/>
<polyline fill="none" stroke="#3a70cc" stroke-width="1.15" stroke-linejoin="round" stroke-linecap="round" points="201,66.9 206.5,63.2 214.7,58.6 229.9,66.9 243.4,58.6 258,66.9 271.4,58.6 280.5,63.2 284.7,66.9"/>
<circle cx="201" cy="66.9" r="4.6" fill="url(#gp)" stroke="#4c1476" stroke-width="0.5"/>
<circle cx="284.7" cy="66.9" r="4.6" fill="url(#gp)" stroke="#4c1476" stroke-width="0.5"/>
</g>
<g>
<polygon points="550.5,13.86 591.76,69.2 550.5,124.54 509.24,69.2" fill="none" stroke="#5a5a5a" stroke-width="0.55"/>
<line x1="545.91" y1="22.1" x2="555.09" y2="22.1" stroke="#9c6442" stroke-width="1.3"/>
<line x1="545.91" y1="22.1" x2="541.33" y2="29.95" stroke="#9c6442" stroke-width="1.3"/>
<line x1="555.09" y1="22.1" x2="559.67" y2="29.95" stroke="#9c6442" stroke-width="1.3"/>
<line x1="541.33" y1="29.95" x2="545.91" y2="37.8" stroke="#9c6442" stroke-width="1.3"/>
<line x1="559.67" y1="29.95" x2="568.84" y2="29.95" stroke="#9c6442" stroke-width="1.3"/>
<line x1="559.67" y1="29.95" x2="555.09" y2="37.8" stroke="#9c6442" stroke-width="1.3"/>
<line x1="568.84" y1="29.95" x2="573.42" y2="37.8" stroke="#9c6442" stroke-width="1.3"/>
<line x1="545.91" y1="37.8" x2="555.09" y2="37.8" stroke="#9c6442" stroke-width="1.3"/>
<line x1="545.91" y1="37.8" x2="541.33" y2="45.65" stroke="#9c6442" stroke-width="1.3"/>
<line x1="555.09" y1="37.8" x2="559.67" y2="45.65" stroke="#9c6442" stroke-width="1.3"/>
<line x1="573.42" y1="37.8" x2="568.84" y2="45.65" stroke="#9c6442" stroke-width="1.3"/>
<line x1="532.16" y1="45.65" x2="541.33" y2="45.65" stroke="#9c6442" stroke-width="1.3"/>
<line x1="532.16" y1="45.65" x2="527.58" y2="53.5" stroke="#9c6442" stroke-width="1.3"/>
<line x1="541.33" y1="45.65" x2="545.91" y2="53.5" stroke="#9c6442" stroke-width="1.3"/>
<line x1="559.67" y1="45.65" x2="568.84" y2="45.65" stroke="#9c6442" stroke-width="1.3"/>
<line x1="559.67" y1="45.65" x2="555.09" y2="53.5" stroke="#9c6442" stroke-width="1.3"/>
<line x1="568.84" y1="45.65" x2="573.42" y2="53.5" stroke="#9c6442" stroke-width="1.3"/>
<line x1="527.58" y1="53.5" x2="532.16" y2="61.35" stroke="#9c6442" stroke-width="1.3"/>
<line x1="545.91" y1="53.5" x2="555.09" y2="53.5" stroke="#9c6442" stroke-width="1.3"/>
<line x1="545.91" y1="53.5" x2="541.33" y2="61.35" stroke="#9c6442" stroke-width="1.3"/>
<line x1="555.09" y1="53.5" x2="559.67" y2="61.35" stroke="#9c6442" stroke-width="1.3"/>
<line x1="573.42" y1="53.5" x2="568.84" y2="61.35" stroke="#9c6442" stroke-width="1.3"/>
<line x1="513.82" y1="60.55" x2="516.11" y2="64.88" stroke="#9c6442" stroke-width="1.3"/>
<line x1="516.11" y1="64.88" x2="518.4" y2="69.2" stroke="#33c233" stroke-width="1.3"/>
<line x1="532.16" y1="61.35" x2="541.33" y2="61.35" stroke="#9c6442" stroke-width="1.3"/>
<line x1="532.16" y1="61.35" x2="527.58" y2="69.2" stroke="#9c6442" stroke-width="1.3"/>
<line x1="541.33" y1="61.35" x2="545.91" y2="69.2" stroke="#9c6442" stroke-width="1.3"/>
<line x1="559.67" y1="61.35" x2="568.84" y2="61.35" stroke="#9c6442" stroke-width="1.3"/>
<line x1="559.67" y1="61.35" x2="555.09" y2="69.2" stroke="#9c6442" stroke-width="1.3"/>
<line x1="568.84" y1="61.35" x2="573.42" y2="69.2" stroke="#9c6442" stroke-width="1.3"/>
<line x1="587.18" y1="60.55" x2="584.89" y2="64.88" stroke="#9c6442" stroke-width="1.3"/>
<line x1="584.89" y1="64.88" x2="582.6" y2="69.2" stroke="#33c233" stroke-width="1.3"/>
<line x1="527.58" y1="69.2" x2="532.16" y2="77.05" stroke="#9c6442" stroke-width="1.3"/>
<line x1="527.58" y1="69.2" x2="522.99" y2="69.2" stroke="#9c6442" stroke-width="1.3"/>
<line x1="522.99" y1="69.2" x2="518.4" y2="69.2" stroke="#33c233" stroke-width="1.3"/>
<line x1="545.91" y1="69.2" x2="555.09" y2="69.2" stroke="#9c6442" stroke-width="1.3"/>
<line x1="545.91" y1="69.2" x2="541.33" y2="77.05" stroke="#9c6442" stroke-width="1.3"/>
<line x1="555.09" y1="69.2" x2="559.67" y2="77.05" stroke="#9c6442" stroke-width="1.3"/>
<line x1="573.42" y1="69.2" x2="568.84" y2="77.05" stroke="#9c6442" stroke-width="1.3"/>
<line x1="573.42" y1="69.2" x2="578.01" y2="69.2" stroke="#9c6442" stroke-width="1.3"/>
<line x1="578.01" y1="69.2" x2="582.6" y2="69.2" stroke="#33c233" stroke-width="1.3"/>
<line x1="513.82" y1="77.85" x2="516.11" y2="73.53" stroke="#9c6442" stroke-width="1.3"/>
<line x1="516.11" y1="73.53" x2="518.4" y2="69.2" stroke="#33c233" stroke-width="1.3"/>
<line x1="532.16" y1="77.05" x2="541.33" y2="77.05" stroke="#9c6442" stroke-width="1.3"/>
<line x1="532.16" y1="77.05" x2="527.58" y2="84.9" stroke="#9c6442" stroke-width="1.3"/>
<line x1="541.33" y1="77.05" x2="545.91" y2="84.9" stroke="#9c6442" stroke-width="1.3"/>
<line x1="559.67" y1="77.05" x2="568.84" y2="77.05" stroke="#9c6442" stroke-width="1.3"/>
<line x1="559.67" y1="77.05" x2="555.09" y2="84.9" stroke="#9c6442" stroke-width="1.3"/>
<line x1="568.84" y1="77.05" x2="573.42" y2="84.9" stroke="#9c6442" stroke-width="1.3"/>
<line x1="587.18" y1="77.85" x2="584.89" y2="73.53" stroke="#9c6442" stroke-width="1.3"/>
<line x1="584.89" y1="73.53" x2="582.6" y2="69.2" stroke="#33c233" stroke-width="1.3"/>
<line x1="527.58" y1="84.9" x2="532.16" y2="92.75" stroke="#9c6442" stroke-width="1.3"/>
<line x1="545.91" y1="84.9" x2="555.09" y2="84.9" stroke="#9c6442" stroke-width="1.3"/>
<line x1="545.91" y1="84.9" x2="541.33" y2="92.75" stroke="#9c6442" stroke-width="1.3"/>
<line x1="555.09" y1="84.9" x2="559.67" y2="92.75" stroke="#9c6442" stroke-width="1.3"/>
<line x1="573.42" y1="84.9" x2="568.84" y2="92.75" stroke="#9c6442" stroke-width="1.3"/>
<line x1="532.16" y1="92.75" x2="541.33" y2="92.75" stroke="#9c6442" stroke-width="1.3"/>
<line x1="532.16" y1="92.75" x2="527.58" y2="100.6" stroke="#9c6442" stroke-width="1.3"/>
<line x1="541.33" y1="92.75" x2="545.91" y2="100.6" stroke="#9c6442" stroke-width="1.3"/>
<line x1="559.67" y1="92.75" x2="568.84" y2="92.75" stroke="#9c6442" stroke-width="1.3"/>
<line x1="559.67" y1="92.75" x2="555.09" y2="100.6" stroke="#9c6442" stroke-width="1.3"/>
<line x1="568.84" y1="92.75" x2="573.42" y2="100.6" stroke="#9c6442" stroke-width="1.3"/>
<line x1="527.58" y1="100.6" x2="532.16" y2="108.45" stroke="#9c6442" stroke-width="1.3"/>
<line x1="545.91" y1="100.6" x2="555.09" y2="100.6" stroke="#9c6442" stroke-width="1.3"/>
<line x1="545.91" y1="100.6" x2="541.33" y2="108.45" stroke="#9c6442" stroke-width="1.3"/>
<line x1="555.09" y1="100.6" x2="559.67" y2="108.45" stroke="#9c6442" stroke-width="1.3"/>
<line x1="532.16" y1="108.45" x2="541.33" y2="108.45" stroke="#9c6442" stroke-width="1.3"/>
<line x1="541.33" y1="108.45" x2="545.91" y2="116.3" stroke="#9c6442" stroke-width="1.3"/>
<line x1="559.67" y1="108.45" x2="555.09" y2="116.3" stroke="#9c6442" stroke-width="1.3"/>
<line x1="545.91" y1="116.3" x2="555.09" y2="116.3" stroke="#9c6442" stroke-width="1.3"/>
<circle cx="545.91" cy="22.1" r="1.7" fill="url(#gc)" stroke="#40220e" stroke-width="0.5"/>
<circle cx="555.09" cy="22.1" r="1.7" fill="url(#gc)" stroke="#40220e" stroke-width="0.5"/>
<circle cx="541.33" cy="29.95" r="1.7" fill="url(#gc)" stroke="#40220e" stroke-width="0.5"/>
<circle cx="559.67" cy="29.95" r="1.7" fill="url(#gc)" stroke="#40220e" stroke-width="0.5"/>
<circle cx="568.84" cy="29.95" r="1.7" fill="url(#gc)" stroke="#40220e" stroke-width="0.5"/>
<circle cx="545.91" cy="37.8" r="1.7" fill="url(#gc)" stroke="#40220e" stroke-width="0.5"/>
<circle cx="555.09" cy="37.8" r="1.7" fill="url(#gc)" stroke="#40220e" stroke-width="0.5"/>
<circle cx="573.42" cy="37.8" r="1.7" fill="url(#gc)" stroke="#40220e" stroke-width="0.5"/>
<circle cx="532.16" cy="45.65" r="1.7" fill="url(#gc)" stroke="#40220e" stroke-width="0.5"/>
<circle cx="541.33" cy="45.65" r="1.7" fill="url(#gc)" stroke="#40220e" stroke-width="0.5"/>
<circle cx="559.67" cy="45.65" r="1.7" fill="url(#gc)" stroke="#40220e" stroke-width="0.5"/>
<circle cx="568.84" cy="45.65" r="1.7" fill="url(#gc)" stroke="#40220e" stroke-width="0.5"/>
<circle cx="527.58" cy="53.5" r="1.7" fill="url(#gc)" stroke="#40220e" stroke-width="0.5"/>
<circle cx="545.91" cy="53.5" r="1.7" fill="url(#gc)" stroke="#40220e" stroke-width="0.5"/>
<circle cx="555.09" cy="53.5" r="1.7" fill="url(#gc)" stroke="#40220e" stroke-width="0.5"/>
<circle cx="573.42" cy="53.5" r="1.7" fill="url(#gc)" stroke="#40220e" stroke-width="0.5"/>
<circle cx="513.82" cy="60.55" r="1.7" fill="url(#gc)" stroke="#40220e" stroke-width="0.5"/>
<circle cx="532.16" cy="61.35" r="1.7" fill="url(#gc)" stroke="#40220e" stroke-width="0.5"/>
<circle cx="541.33" cy="61.35" r="1.7" fill="url(#gc)" stroke="#40220e" stroke-width="0.5"/>
<circle cx="559.67" cy="61.35" r="1.7" fill="url(#gc)" stroke="#40220e" stroke-width="0.5"/>
<circle cx="568.84" cy="61.35" r="1.7" fill="url(#gc)" stroke="#40220e" stroke-width="0.5"/>
<circle cx="587.18" cy="60.55" r="1.7" fill="url(#gc)" stroke="#40220e" stroke-width="0.5"/>
<circle cx="527.58" cy="69.2" r="1.7" fill="url(#gc)" stroke="#40220e" stroke-width="0.5"/>
<circle cx="545.91" cy="69.2" r="1.7" fill="url(#gc)" stroke="#40220e" stroke-width="0.5"/>
<circle cx="555.09" cy="69.2" r="1.7" fill="url(#gc)" stroke="#40220e" stroke-width="0.5"/>
<circle cx="573.42" cy="69.2" r="1.7" fill="url(#gc)" stroke="#40220e" stroke-width="0.5"/>
<circle cx="513.82" cy="77.85" r="1.7" fill="url(#gc)" stroke="#40220e" stroke-width="0.5"/>
<circle cx="532.16" cy="77.05" r="1.7" fill="url(#gc)" stroke="#40220e" stroke-width="0.5"/>
<circle cx="541.33" cy="77.05" r="1.7" fill="url(#gc)" stroke="#40220e" stroke-width="0.5"/>
<circle cx="559.67" cy="77.05" r="1.7" fill="url(#gc)" stroke="#40220e" stroke-width="0.5"/>
<circle cx="568.84" cy="77.05" r="1.7" fill="url(#gc)" stroke="#40220e" stroke-width="0.5"/>
<circle cx="587.18" cy="77.85" r="1.7" fill="url(#gc)" stroke="#40220e" stroke-width="0.5"/>
<circle cx="527.58" cy="84.9" r="1.7" fill="url(#gc)" stroke="#40220e" stroke-width="0.5"/>
<circle cx="545.91" cy="84.9" r="1.7" fill="url(#gc)" stroke="#40220e" stroke-width="0.5"/>
<circle cx="555.09" cy="84.9" r="1.7" fill="url(#gc)" stroke="#40220e" stroke-width="0.5"/>
<circle cx="573.42" cy="84.9" r="1.7" fill="url(#gc)" stroke="#40220e" stroke-width="0.5"/>
<circle cx="532.16" cy="92.75" r="1.7" fill="url(#gc)" stroke="#40220e" stroke-width="0.5"/>
<circle cx="541.33" cy="92.75" r="1.7" fill="url(#gc)" stroke="#40220e" stroke-width="0.5"/>
<circle cx="559.67" cy="92.75" r="1.7" fill="url(#gc)" stroke="#40220e" stroke-width="0.5"/>
<circle cx="568.84" cy="92.75" r="1.7" fill="url(#gc)" stroke="#40220e" stroke-width="0.5"/>
<circle cx="527.58" cy="100.6" r="1.7" fill="url(#gc)" stroke="#40220e" stroke-width="0.5"/>
<circle cx="545.91" cy="100.6" r="1.7" fill="url(#gc)" stroke="#40220e" stroke-width="0.5"/>
<circle cx="555.09" cy="100.6" r="1.7" fill="url(#gc)" stroke="#40220e" stroke-width="0.5"/>
<circle cx="573.42" cy="100.6" r="1.7" fill="url(#gc)" stroke="#40220e" stroke-width="0.5"/>
<circle cx="532.16" cy="108.45" r="1.7" fill="url(#gc)" stroke="#40220e" stroke-width="0.5"/>
<circle cx="541.33" cy="108.45" r="1.7" fill="url(#gc)" stroke="#40220e" stroke-width="0.5"/>
<circle cx="559.67" cy="108.45" r="1.7" fill="url(#gc)" stroke="#40220e" stroke-width="0.5"/>
<circle cx="545.91" cy="116.3" r="1.7" fill="url(#gc)" stroke="#40220e" stroke-width="0.5"/>
<circle cx="555.09" cy="116.3" r="1.7" fill="url(#gc)" stroke="#40220e" stroke-width="0.5"/>
<circle cx="518.4" cy="69.2" r="2.1" fill="url(#gb)" stroke="#0d6a0d" stroke-width="0.35"/>
<circle cx="582.6" cy="69.2" r="2.1" fill="url(#gb)" stroke="#0d6a0d" stroke-width="0.35"/>
<circle cx="509.4" cy="70.2" r="4.6" fill="url(#gp)" stroke="#4c1476" stroke-width="0.5"/>
<circle cx="550.5" cy="13.7" r="4.6" fill="url(#gp)" stroke="#4c1476" stroke-width="0.5"/>
<polyline fill="none" stroke="#3a70cc" stroke-width="1.15" stroke-linejoin="round" stroke-linecap="round" points="509.5,70.1 523.2,61.3 523.5,47.5 524.3,45.8 537.2,37 537.9,20.8 550.3,13.6"/>
</g>
<g>
<polygon points="242.45,181.41 283.53,236.4 242.45,291.39 201.36,236.4" fill="none" stroke="#5a5a5a" stroke-width="0.55"/>
<line x1="237.88" y1="189.6" x2="247.01" y2="189.6" stroke="#9c6442" stroke-width="1.3"/>
<line x1="237.88" y1="189.6" x2="233.32" y2="197.4" stroke="#9c6442" stroke-width="1.3"/>
<line x1="247.01" y1="189.6" x2="251.58" y2="197.4" stroke="#9c6442" stroke-width="1.3"/>
<line x1="233.32" y1="197.4" x2="237.88" y2="205.2" stroke="#9c6442" stroke-width="1.3"/>
<line x1="251.58" y1="197.4" x2="260.71" y2="197.4" stroke="#9c6442" stroke-width="1.3"/>
<line x1="251.58" y1="197.4" x2="247.01" y2="205.2" stroke="#9c6442" stroke-width="1.3"/>
<line x1="260.71" y1="197.4" x2="265.27" y2="205.2" stroke="#9c6442" stroke-width="1.3"/>
<line x1="237.88" y1="205.2" x2="247.01" y2="205.2" stroke="#9c6442" stroke-width="1.3"/>
<line x1="237.88" y1="205.2" x2="233.32" y2="213" stroke="#9c6442" stroke-width="1.3"/>
<line x1="247.01" y1="205.2" x2="251.58" y2="213" stroke="#9c6442" stroke-width="1.3"/>
<line x1="265.27" y1="205.2" x2="260.71" y2="213" stroke="#9c6442" stroke-width="1.3"/>
<line x1="224.19" y1="213" x2="233.32" y2="213" stroke="#9c6442" stroke-width="1.3"/>
<line x1="224.19" y1="213" x2="219.62" y2="220.8" stroke="#9c6442" stroke-width="1.3"/>
<line x1="233.32" y1="213" x2="237.88" y2="220.8" stroke="#9c6442" stroke-width="1.3"/>
<line x1="251.58" y1="213" x2="260.71" y2="213" stroke="#9c6442" stroke-width="1.3"/>
<line x1="251.58" y1="213" x2="247.01" y2="220.8" stroke="#9c6442" stroke-width="1.3"/>
<line x1="260.71" y1="213" x2="265.27" y2="220.8" stroke="#9c6442" stroke-width="1.3"/>
<line x1="219.62" y1="220.8" x2="224.19" y2="228.6" stroke="#9c6442" stroke-width="1.3"/>
<line x1="237.88" y1="220.8" x2="247.01" y2="220.8" stroke="#9c6442" stroke-width="1.3"/>
<line x1="237.88" y1="220.8" x2="233.32" y2="228.6" stroke="#9c6442" stroke-width="1.3"/>
<line x1="247.01" y1="220.8" x2="251.58" y2="228.6" stroke="#9c6442" stroke-width="1.3"/>
<line x1="265.27" y1="220.8" x2="260.71" y2="228.6" stroke="#9c6442" stroke-width="1.3"/>
<line x1="205.93" y1="227.8" x2="208.21" y2="232.1" stroke="#9c6442" stroke-width="1.3"/>
<line x1="208.21" y1="232.1" x2="210.49" y2="236.4" stroke="#33c233" stroke-width="1.3"/>
<line x1="224.19" y1="228.6" x2="233.32" y2="228.6" stroke="#9c6442" stroke-width="1.3"/>
<line x1="224.19" y1="228.6" x2="219.62" y2="236.4" stroke="#9c6442" stroke-width="1.3"/>
<line x1="233.32" y1="228.6" x2="237.88" y2="236.4" stroke="#9c6442" stroke-width="1.3"/>
<line x1="251.58" y1="228.6" x2="260.71" y2="228.6" stroke="#9c6442" stroke-width="1.3"/>
<line x1="251.58" y1="228.6" x2="247.01" y2="236.4" stroke="#9c6442" stroke-width="1.3"/>
<line x1="260.71" y1="228.6" x2="265.27" y2="236.4" stroke="#9c6442" stroke-width="1.3"/>
<line x1="278.97" y1="227.8" x2="276.69" y2="232.1" stroke="#9c6442" stroke-width="1.3"/>
<line x1="276.69" y1="232.1" x2="274.4" y2="236.4" stroke="#33c233" stroke-width="1.3"/>
<line x1="219.62" y1="236.4" x2="224.19" y2="244.2" stroke="#9c6442" stroke-width="1.3"/>
<line x1="219.62" y1="236.4" x2="215.06" y2="236.4" stroke="#9c6442" stroke-width="1.3"/>
<line x1="215.06" y1="236.4" x2="210.49" y2="236.4" stroke="#33c233" stroke-width="1.3"/>
<line x1="237.88" y1="236.4" x2="247.01" y2="236.4" stroke="#9c6442" stroke-width="1.3"/>
<line x1="237.88" y1="236.4" x2="233.32" y2="244.2" stroke="#9c6442" stroke-width="1.3"/>
<line x1="247.01" y1="236.4" x2="251.58" y2="244.2" stroke="#9c6442" stroke-width="1.3"/>
<line x1="265.27" y1="236.4" x2="260.71" y2="244.2" stroke="#9c6442" stroke-width="1.3"/>
<line x1="265.27" y1="236.4" x2="269.84" y2="236.4" stroke="#9c6442" stroke-width="1.3"/>
<line x1="269.84" y1="236.4" x2="274.4" y2="236.4" stroke="#33c233" stroke-width="1.3"/>
<line x1="205.93" y1="245" x2="208.21" y2="240.7" stroke="#9c6442" stroke-width="1.3"/>
<line x1="208.21" y1="240.7" x2="210.49" y2="236.4" stroke="#33c233" stroke-width="1.3"/>
<line x1="224.19" y1="244.2" x2="233.32" y2="244.2" stroke="#9c6442" stroke-width="1.3"/>
<line x1="224.19" y1="244.2" x2="219.62" y2="252" stroke="#9c6442" stroke-width="1.3"/>
<line x1="233.32" y1="244.2" x2="237.88" y2="252" stroke="#9c6442" stroke-width="1.3"/>
<line x1="251.58" y1="244.2" x2="260.71" y2="244.2" stroke="#9c6442" stroke-width="1.3"/>
<line x1="251.58" y1="244.2" x2="247.01" y2="252" stroke="#9c6442" stroke-width="1.3"/>
<line x1="260.71" y1="244.2" x2="265.27" y2="252" stroke="#9c6442" stroke-width="1.3"/>
<line x1="278.97" y1="245" x2="276.69" y2="240.7" stroke="#9c6442" stroke-width="1.3"/>
<line x1="276.69" y1="240.7" x2="274.4" y2="236.4" stroke="#33c233" stroke-width="1.3"/>
<line x1="219.62" y1="252" x2="224.19" y2="259.8" stroke="#9c6442" stroke-width="1.3"/>
<line x1="237.88" y1="252" x2="247.01" y2="252" stroke="#9c6442" stroke-width="1.3"/>
<line x1="237.88" y1="252" x2="233.32" y2="259.8" stroke="#9c6442" stroke-width="1.3"/>
<line x1="247.01" y1="252" x2="251.58" y2="259.8" stroke="#9c6442" stroke-width="1.3"/>
<line x1="265.27" y1="252" x2="260.71" y2="259.8" stroke="#9c6442" stroke-width="1.3"/>
<line x1="224.19" y1="259.8" x2="233.32" y2="259.8" stroke="#9c6442" stroke-width="1.3"/>
<line x1="224.19" y1="259.8" x2="219.62" y2="267.6" stroke="#9c6442" stroke-width="1.3"/>
<line x1="233.32" y1="259.8" x2="237.88" y2="267.6" stroke="#9c6442" stroke-width="1.3"/>
<line x1="251.58" y1="259.8" x2="260.71" y2="259.8" stroke="#9c6442" stroke-width="1.3"/>
<line x1="251.58" y1="259.8" x2="247.01" y2="267.6" stroke="#9c6442" stroke-width="1.3"/>
<line x1="260.71" y1="259.8" x2="265.27" y2="267.6" stroke="#9c6442" stroke-width="1.3"/>
<line x1="219.62" y1="267.6" x2="224.19" y2="275.4" stroke="#9c6442" stroke-width="1.3"/>
<line x1="237.88" y1="267.6" x2="247.01" y2="267.6" stroke="#9c6442" stroke-width="1.3"/>
<line x1="237.88" y1="267.6" x2="233.32" y2="275.4" stroke="#9c6442" stroke-width="1.3"/>
<line x1="247.01" y1="267.6" x2="251.58" y2="275.4" stroke="#9c6442" stroke-width="1.3"/>
<line x1="224.19" y1="275.4" x2="233.32" y2="275.4" stroke="#9c6442" stroke-width="1.3"/>
<line x1="233.32" y1="275.4" x2="237.88" y2="283.2" stroke="#9c6442" stroke-width="1.3"/>
<line x1="251.58" y1="275.4" x2="247.01" y2="283.2" stroke="#9c6442" stroke-width="1.3"/>
<line x1="237.88" y1="283.2" x2="247.01" y2="283.2" stroke="#9c6442" stroke-width="1.3"/>
<circle cx="237.88" cy="189.6" r="1.7" fill="url(#gc)" stroke="#40220e" stroke-width="0.5"/>
<circle cx="247.01" cy="189.6" r="1.7" fill="url(#gc)" stroke="#40220e" stroke-width="0.5"/>
<circle cx="233.32" cy="197.4" r="1.7" fill="url(#gc)" stroke="#40220e" stroke-width="0.5"/>
<circle cx="251.58" cy="197.4" r="1.7" fill="url(#gc)" stroke="#40220e" stroke-width="0.5"/>
<circle cx="260.71" cy="197.4" r="1.7" fill="url(#gc)" stroke="#40220e" stroke-width="0.5"/>
<circle cx="237.88" cy="205.2" r="1.7" fill="url(#gc)" stroke="#40220e" stroke-width="0.5"/>
<circle cx="247.01" cy="205.2" r="1.7" fill="url(#gc)" stroke="#40220e" stroke-width="0.5"/>
<circle cx="265.27" cy="205.2" r="1.7" fill="url(#gc)" stroke="#40220e" stroke-width="0.5"/>
<circle cx="224.19" cy="213" r="1.7" fill="url(#gc)" stroke="#40220e" stroke-width="0.5"/>
<circle cx="233.32" cy="213" r="1.7" fill="url(#gc)" stroke="#40220e" stroke-width="0.5"/>
<circle cx="251.58" cy="213" r="1.7" fill="url(#gc)" stroke="#40220e" stroke-width="0.5"/>
<circle cx="260.71" cy="213" r="1.7" fill="url(#gc)" stroke="#40220e" stroke-width="0.5"/>
<circle cx="219.62" cy="220.8" r="1.7" fill="url(#gc)" stroke="#40220e" stroke-width="0.5"/>
<circle cx="237.88" cy="220.8" r="1.7" fill="url(#gc)" stroke="#40220e" stroke-width="0.5"/>
<circle cx="247.01" cy="220.8" r="1.7" fill="url(#gc)" stroke="#40220e" stroke-width="0.5"/>
<circle cx="265.27" cy="220.8" r="1.7" fill="url(#gc)" stroke="#40220e" stroke-width="0.5"/>
<circle cx="205.93" cy="227.8" r="1.7" fill="url(#gc)" stroke="#40220e" stroke-width="0.5"/>
<circle cx="224.19" cy="228.6" r="1.7" fill="url(#gc)" stroke="#40220e" stroke-width="0.5"/>
<circle cx="233.32" cy="228.6" r="1.7" fill="url(#gc)" stroke="#40220e" stroke-width="0.5"/>
<circle cx="251.58" cy="228.6" r="1.7" fill="url(#gc)" stroke="#40220e" stroke-width="0.5"/>
<circle cx="260.71" cy="228.6" r="1.7" fill="url(#gc)" stroke="#40220e" stroke-width="0.5"/>
<circle cx="278.97" cy="227.8" r="1.7" fill="url(#gc)" stroke="#40220e" stroke-width="0.5"/>
<circle cx="219.62" cy="236.4" r="1.7" fill="url(#gc)" stroke="#40220e" stroke-width="0.5"/>
<circle cx="237.88" cy="236.4" r="1.7" fill="url(#gc)" stroke="#40220e" stroke-width="0.5"/>
<circle cx="247.01" cy="236.4" r="1.7" fill="url(#gc)" stroke="#40220e" stroke-width="0.5"/>
<circle cx="265.27" cy="236.4" r="1.7" fill="url(#gc)" stroke="#40220e" stroke-width="0.5"/>
<circle cx="205.93" cy="245" r="1.7" fill="url(#gc)" stroke="#40220e" stroke-width="0.5"/>
<circle cx="224.19" cy="244.2" r="1.7" fill="url(#gc)" stroke="#40220e" stroke-width="0.5"/>
<circle cx="233.32" cy="244.2" r="1.7" fill="url(#gc)" stroke="#40220e" stroke-width="0.5"/>
<circle cx="251.58" cy="244.2" r="1.7" fill="url(#gc)" stroke="#40220e" stroke-width="0.5"/>
<circle cx="260.71" cy="244.2" r="1.7" fill="url(#gc)" stroke="#40220e" stroke-width="0.5"/>
<circle cx="278.97" cy="245" r="1.7" fill="url(#gc)" stroke="#40220e" stroke-width="0.5"/>
<circle cx="219.62" cy="252" r="1.7" fill="url(#gc)" stroke="#40220e" stroke-width="0.5"/>
<circle cx="237.88" cy="252" r="1.7" fill="url(#gc)" stroke="#40220e" stroke-width="0.5"/>
<circle cx="247.01" cy="252" r="1.7" fill="url(#gc)" stroke="#40220e" stroke-width="0.5"/>
<circle cx="265.27" cy="252" r="1.7" fill="url(#gc)" stroke="#40220e" stroke-width="0.5"/>
<circle cx="224.19" cy="259.8" r="1.7" fill="url(#gc)" stroke="#40220e" stroke-width="0.5"/>
<circle cx="233.32" cy="259.8" r="1.7" fill="url(#gc)" stroke="#40220e" stroke-width="0.5"/>
<circle cx="251.58" cy="259.8" r="1.7" fill="url(#gc)" stroke="#40220e" stroke-width="0.5"/>
<circle cx="260.71" cy="259.8" r="1.7" fill="url(#gc)" stroke="#40220e" stroke-width="0.5"/>
<circle cx="219.62" cy="267.6" r="1.7" fill="url(#gc)" stroke="#40220e" stroke-width="0.5"/>
<circle cx="237.88" cy="267.6" r="1.7" fill="url(#gc)" stroke="#40220e" stroke-width="0.5"/>
<circle cx="247.01" cy="267.6" r="1.7" fill="url(#gc)" stroke="#40220e" stroke-width="0.5"/>
<circle cx="265.27" cy="267.6" r="1.7" fill="url(#gc)" stroke="#40220e" stroke-width="0.5"/>
<circle cx="224.19" cy="275.4" r="1.7" fill="url(#gc)" stroke="#40220e" stroke-width="0.5"/>
<circle cx="233.32" cy="275.4" r="1.7" fill="url(#gc)" stroke="#40220e" stroke-width="0.5"/>
<circle cx="251.58" cy="275.4" r="1.7" fill="url(#gc)" stroke="#40220e" stroke-width="0.5"/>
<circle cx="237.88" cy="283.2" r="1.7" fill="url(#gc)" stroke="#40220e" stroke-width="0.5"/>
<circle cx="247.01" cy="283.2" r="1.7" fill="url(#gc)" stroke="#40220e" stroke-width="0.5"/>
<circle cx="210.49" cy="236.4" r="2.1" fill="url(#gb)" stroke="#0d6a0d" stroke-width="0.35"/>
<circle cx="274.4" cy="236.4" r="2.1" fill="url(#gb)" stroke="#0d6a0d" stroke-width="0.35"/>
<circle cx="201" cy="240.3" r="4.6" fill="url(#gp)" stroke="#4c1476" stroke-width="0.5"/>
<circle cx="244.3" cy="181.5" r="4.6" fill="url(#gp)" stroke="#4c1476" stroke-width="0.5"/>
<polyline fill="none" stroke="#3a70cc" stroke-width="1.15" stroke-linejoin="round" stroke-linecap="round" points="201.4,240.4 244.1,215.4 243.3,181.8"/>
</g>
<g>
<polygon points="556.4,176.13 599.15,233.8 556.4,291.47 513.65,233.8" fill="none" stroke="#5a5a5a" stroke-width="0.55"/>
<line x1="551.65" y1="184.72" x2="561.15" y2="184.72" stroke="#9c6442" stroke-width="1.3"/>
<line x1="551.65" y1="184.72" x2="546.9" y2="192.9" stroke="#9c6442" stroke-width="1.3"/>
<line x1="561.15" y1="184.72" x2="565.9" y2="192.9" stroke="#9c6442" stroke-width="1.3"/>
<line x1="546.9" y1="192.9" x2="551.65" y2="201.08" stroke="#9c6442" stroke-width="1.3"/>
<line x1="565.9" y1="192.9" x2="575.4" y2="192.9" stroke="#9c6442" stroke-width="1.3"/>
<line x1="565.9" y1="192.9" x2="561.15" y2="201.08" stroke="#9c6442" stroke-width="1.3"/>
<line x1="575.4" y1="192.9" x2="580.15" y2="201.08" stroke="#9c6442" stroke-width="1.3"/>
<line x1="551.65" y1="201.08" x2="561.15" y2="201.08" stroke="#9c6442" stroke-width="1.3"/>
<line x1="551.65" y1="201.08" x2="546.9" y2="209.26" stroke="#9c6442" stroke-width="1.3"/>
<line x1="561.15" y1="201.08" x2="565.9" y2="209.26" stroke="#9c6442" stroke-width="1.3"/>
<line x1="580.15" y1="201.08" x2="575.4" y2="209.26" stroke="#9c6442" stroke-width="1.3"/>
<line x1="537.4" y1="209.26" x2="546.9" y2="209.26" stroke="#9c6442" stroke-width="1.3"/>
<line x1="537.4" y1="209.26" x2="532.65" y2="217.44" stroke="#9c6442" stroke-width="1.3"/>
<line x1="546.9" y1="209.26" x2="551.65" y2="217.44" stroke="#9c6442" stroke-width="1.3"/>
<line x1="565.9" y1="209.26" x2="575.4" y2="209.26" stroke="#9c6442" stroke-width="1.3"/>
<line x1="565.9" y1="209.26" x2="561.15" y2="217.44" stroke="#9c6442" stroke-width="1.3"/>
<line x1="575.4" y1="209.26" x2="580.15" y2="217.44" stroke="#9c6442" stroke-width="1.3"/>
<line x1="532.65" y1="217.44" x2="537.4" y2="225.62" stroke="#9c6442" stroke-width="1.3"/>
<line x1="551.65" y1="217.44" x2="561.15" y2="217.44" stroke="#9c6442" stroke-width="1.3"/>
<line x1="551.65" y1="217.44" x2="546.9" y2="225.62" stroke="#9c6442" stroke-width="1.3"/>
<line x1="561.15" y1="217.44" x2="565.9" y2="225.62" stroke="#9c6442" stroke-width="1.3"/>
<line x1="580.15" y1="217.44" x2="575.4" y2="225.62" stroke="#9c6442" stroke-width="1.3"/>
<line x1="518.4" y1="224.82" x2="520.77" y2="229.31" stroke="#9c6442" stroke-width="1.3"/>
<line x1="520.77" y1="229.31" x2="523.15" y2="233.8" stroke="#33c233" stroke-width="1.3"/>
<line x1="537.4" y1="225.62" x2="546.9" y2="225.62" stroke="#9c6442" stroke-width="1.3"/>
<line x1="537.4" y1="225.62" x2="532.65" y2="233.8" stroke="#9c6442" stroke-width="1.3"/>
<line x1="546.9" y1="225.62" x2="551.65" y2="233.8" stroke="#9c6442" stroke-width="1.3"/>
<line x1="565.9" y1="225.62" x2="575.4" y2="225.62" stroke="#9c6442" stroke-width="1.3"/>
<line x1="565.9" y1="225.62" x2="561.15" y2="233.8" stroke="#9c6442" stroke-width="1.3"/>
<line x1="575.4" y1="225.62" x2="580.15" y2="233.8" stroke="#9c6442" stroke-width="1.3"/>
<line x1="594.4" y1="224.82" x2="592.02" y2="229.31" stroke="#9c6442" stroke-width="1.3"/>
<line x1="592.02" y1="229.31" x2="589.65" y2="233.8" stroke="#33c233" stroke-width="1.3"/>
<line x1="532.65" y1="233.8" x2="537.4" y2="241.98" stroke="#9c6442" stroke-width="1.3"/>
<line x1="532.65" y1="233.8" x2="527.9" y2="233.8" stroke="#9c6442" stroke-width="1.3"/>
<line x1="527.9" y1="233.8" x2="523.15" y2="233.8" stroke="#33c233" stroke-width="1.3"/>
<line x1="551.65" y1="233.8" x2="561.15" y2="233.8" stroke="#9c6442" stroke-width="1.3"/>
<line x1="551.65" y1="233.8" x2="546.9" y2="241.98" stroke="#9c6442" stroke-width="1.3"/>
<line x1="561.15" y1="233.8" x2="565.9" y2="241.98" stroke="#9c6442" stroke-width="1.3"/>
<line x1="580.15" y1="233.8" x2="575.4" y2="241.98" stroke="#9c6442" stroke-width="1.3"/>
<line x1="580.15" y1="233.8" x2="584.9" y2="233.8" stroke="#9c6442" stroke-width="1.3"/>
<line x1="584.9" y1="233.8" x2="589.65" y2="233.8" stroke="#33c233" stroke-width="1.3"/>
<line x1="518.4" y1="242.78" x2="520.77" y2="238.29" stroke="#9c6442" stroke-width="1.3"/>
<line x1="520.77" y1="238.29" x2="523.15" y2="233.8" stroke="#33c233" stroke-width="1.3"/>
<line x1="537.4" y1="241.98" x2="546.9" y2="241.98" stroke="#9c6442" stroke-width="1.3"/>
<line x1="537.4" y1="241.98" x2="532.65" y2="250.16" stroke="#9c6442" stroke-width="1.3"/>
<line x1="546.9" y1="241.98" x2="551.65" y2="250.16" stroke="#9c6442" stroke-width="1.3"/>
<line x1="565.9" y1="241.98" x2="575.4" y2="241.98" stroke="#9c6442" stroke-width="1.3"/>
<line x1="565.9" y1="241.98" x2="561.15" y2="250.16" stroke="#9c6442" stroke-width="1.3"/>
<line x1="575.4" y1="241.98" x2="580.15" y2="250.16" stroke="#9c6442" stroke-width="1.3"/>
<line x1="594.4" y1="242.78" x2="592.02" y2="238.29" stroke="#9c6442" stroke-width="1.3"/>
<line x1="592.02" y1="238.29" x2="589.65" y2="233.8" stroke="#33c233" stroke-width="1.3"/>
<line x1="532.65" y1="250.16" x2="537.4" y2="258.34" stroke="#9c6442" stroke-width="1.3"/>
<line x1="551.65" y1="250.16" x2="561.15" y2="250.16" stroke="#9c6442" stroke-width="1.3"/>
<line x1="551.65" y1="250.16" x2="546.9" y2="258.34" stroke="#9c6442" stroke-width="1.3"/>
<line x1="561.15" y1="250.16" x2="565.9" y2="258.34" stroke="#9c6442" stroke-width="1.3"/>
<line x1="580.15" y1="250.16" x2="575.4" y2="258.34" stroke="#9c6442" stroke-width="1.3"/>
<line x1="537.4" y1="258.34" x2="546.9" y2="258.34" stroke="#9c6442" stroke-width="1.3"/>
<line x1="537.4" y1="258.34" x2="532.65" y2="266.52" stroke="#9c6442" stroke-width="1.3"/>
<line x1="546.9" y1="258.34" x2="551.65" y2="266.52" stroke="#9c6442" stroke-width="1.3"/>
<line x1="565.9" y1="258.34" x2="575.4" y2="258.34" stroke="#9c6442" stroke-width="1.3"/>
<line x1="565.9" y1="258.34" x2="561.15" y2="266.52" stroke="#9c6442" stroke-width="1.3"/>
<line x1="575.4" y1="258.34" x2="580.15" y2="266.52" stroke="#9c6442" stroke-width="1.3"/>
<line x1="532.65" y1="266.52" x2="537.4" y2="274.7" stroke="#9c6442" stroke-width="1.3"/>
<line x1="551.65" y1="266.52" x2="561.15" y2="266.52" stroke="#9c6442" stroke-width="1.3"/>
<line x1="551.65" y1="266.52" x2="546.9" y2="274.7" stroke="#9c6442" stroke-width="1.3"/>
<line x1="561.15" y1="266.52" x2="565.9" y2="274.7" stroke="#9c6442" stroke-width="1.3"/>
<line x1="537.4" y1="274.7" x2="546.9" y2="274.7" stroke="#9c6442" stroke-width="1.3"/>
<line x1="546.9" y1="274.7" x2="551.65" y2="282.88" stroke="#9c6442" stroke-width="1.3"/>
<line x1="565.9" y1="274.7" x2="561.15" y2="282.88" stroke="#9c6442" stroke-width="1.3"/>
<line x1="551.65" y1="282.88" x2="561.15" y2="282.88" stroke="#9c6442" stroke-width="1.3"/>
<circle cx="551.65" cy="184.72" r="1.7" fill="url(#gc)" stroke="#40220e" stroke-width="0.5"/>
<circle cx="561.15" cy="184.72" r="1.7" fill="url(#gc)" stroke="#40220e" stroke-width="0.5"/>
<circle cx="546.9" cy="192.9" r="1.7" fill="url(#gc)" stroke="#40220e" stroke-width="0.5"/>
<circle cx="565.9" cy="192.9" r="1.7" fill="url(#gc)" stroke="#40220e" stroke-width="0.5"/>
<circle cx="575.4" cy="192.9" r="1.7" fill="url(#gc)" stroke="#40220e" stroke-width="0.5"/>
<circle cx="551.65" cy="201.08" r="1.7" fill="url(#gc)" stroke="#40220e" stroke-width="0.5"/>
<circle cx="561.15" cy="201.08" r="1.7" fill="url(#gc)" stroke="#40220e" stroke-width="0.5"/>
<circle cx="580.15" cy="201.08" r="1.7" fill="url(#gc)" stroke="#40220e" stroke-width="0.5"/>
<circle cx="537.4" cy="209.26" r="1.7" fill="url(#gc)" stroke="#40220e" stroke-width="0.5"/>
<circle cx="546.9" cy="209.26" r="1.7" fill="url(#gc)" stroke="#40220e" stroke-width="0.5"/>
<circle cx="565.9" cy="209.26" r="1.7" fill="url(#gc)" stroke="#40220e" stroke-width="0.5"/>
<circle cx="575.4" cy="209.26" r="1.7" fill="url(#gc)" stroke="#40220e" stroke-width="0.5"/>
<circle cx="532.65" cy="217.44" r="1.7" fill="url(#gc)" stroke="#40220e" stroke-width="0.5"/>
<circle cx="551.65" cy="217.44" r="1.7" fill="url(#gc)" stroke="#40220e" stroke-width="0.5"/>
<circle cx="561.15" cy="217.44" r="1.7" fill="url(#gc)" stroke="#40220e" stroke-width="0.5"/>
<circle cx="580.15" cy="217.44" r="1.7" fill="url(#gc)" stroke="#40220e" stroke-width="0.5"/>
<circle cx="518.4" cy="224.82" r="1.7" fill="url(#gc)" stroke="#40220e" stroke-width="0.5"/>
<circle cx="537.4" cy="225.62" r="1.7" fill="url(#gc)" stroke="#40220e" stroke-width="0.5"/>
<circle cx="546.9" cy="225.62" r="1.7" fill="url(#gc)" stroke="#40220e" stroke-width="0.5"/>
<circle cx="565.9" cy="225.62" r="1.7" fill="url(#gc)" stroke="#40220e" stroke-width="0.5"/>
<circle cx="575.4" cy="225.62" r="1.7" fill="url(#gc)" stroke="#40220e" stroke-width="0.5"/>
<circle cx="594.4" cy="224.82" r="1.7" fill="url(#gc)" stroke="#40220e" stroke-width="0.5"/>
<circle cx="532.65" cy="233.8" r="1.7" fill="url(#gc)" stroke="#40220e" stroke-width="0.5"/>
<circle cx="551.65" cy="233.8" r="1.7" fill="url(#gc)" stroke="#40220e" stroke-width="0.5"/>
<circle cx="561.15" cy="233.8" r="1.7" fill="url(#gc)" stroke="#40220e" stroke-width="0.5"/>
<circle cx="580.15" cy="233.8" r="1.7" fill="url(#gc)" stroke="#40220e" stroke-width="0.5"/>
<circle cx="518.4" cy="242.78" r="1.7" fill="url(#gc)" stroke="#40220e" stroke-width="0.5"/>
<circle cx="537.4" cy="241.98" r="1.7" fill="url(#gc)" stroke="#40220e" stroke-width="0.5"/>
<circle cx="546.9" cy="241.98" r="1.7" fill="url(#gc)" stroke="#40220e" stroke-width="0.5"/>
<circle cx="565.9" cy="241.98" r="1.7" fill="url(#gc)" stroke="#40220e" stroke-width="0.5"/>
<circle cx="575.4" cy="241.98" r="1.7" fill="url(#gc)" stroke="#40220e" stroke-width="0.5"/>
<circle cx="594.4" cy="242.78" r="1.7" fill="url(#gc)" stroke="#40220e" stroke-width="0.5"/>
<circle cx="532.65" cy="250.16" r="1.7" fill="url(#gc)" stroke="#40220e" stroke-width="0.5"/>
<circle cx="551.65" cy="250.16" r="1.7" fill="url(#gc)" stroke="#40220e" stroke-width="0.5"/>
<circle cx="561.15" cy="250.16" r="1.7" fill="url(#gc)" stroke="#40220e" stroke-width="0.5"/>
<circle cx="580.15" cy="250.16" r="1.7" fill="url(#gc)" stroke="#40220e" stroke-width="0.5"/>
<circle cx="537.4" cy="258.34" r="1.7" fill="url(#gc)" stroke="#40220e" stroke-width="0.5"/>
<circle cx="546.9" cy="258.34" r="1.7" fill="url(#gc)" stroke="#40220e" stroke-width="0.5"/>
<circle cx="565.9" cy="258.34" r="1.7" fill="url(#gc)" stroke="#40220e" stroke-width="0.5"/>
<circle cx="575.4" cy="258.34" r="1.7" fill="url(#gc)" stroke="#40220e" stroke-width="0.5"/>
<circle cx="532.65" cy="266.52" r="1.7" fill="url(#gc)" stroke="#40220e" stroke-width="0.5"/>
<circle cx="551.65" cy="266.52" r="1.7" fill="url(#gc)" stroke="#40220e" stroke-width="0.5"/>
<circle cx="561.15" cy="266.52" r="1.7" fill="url(#gc)" stroke="#40220e" stroke-width="0.5"/>
<circle cx="580.15" cy="266.52" r="1.7" fill="url(#gc)" stroke="#40220e" stroke-width="0.5"/>
<circle cx="537.4" cy="274.7" r="1.7" fill="url(#gc)" stroke="#40220e" stroke-width="0.5"/>
<circle cx="546.9" cy="274.7" r="1.7" fill="url(#gc)" stroke="#40220e" stroke-width="0.5"/>
<circle cx="565.9" cy="274.7" r="1.7" fill="url(#gc)" stroke="#40220e" stroke-width="0.5"/>
<circle cx="551.65" cy="282.88" r="1.7" fill="url(#gc)" stroke="#40220e" stroke-width="0.5"/>
<circle cx="561.15" cy="282.88" r="1.7" fill="url(#gc)" stroke="#40220e" stroke-width="0.5"/>
<circle cx="523.15" cy="233.8" r="2.1" fill="url(#gb)" stroke="#0d6a0d" stroke-width="0.35"/>
<circle cx="589.65" cy="233.8" r="2.1" fill="url(#gb)" stroke="#0d6a0d" stroke-width="0.35"/>
<circle cx="513" cy="235.3" r="4.6" fill="url(#gp)" stroke="#4c1476" stroke-width="0.5"/>
<circle cx="556.3" cy="176.1" r="4.6" fill="url(#gp)" stroke="#4c1476" stroke-width="0.5"/>
<polyline fill="none" stroke="#3a70cc" stroke-width="1.15" stroke-linejoin="round" stroke-linecap="round" points="513.2,235.2 542.2,218.2 542.5,184.4 556.1,176.3"/>
<polygon points="0,-1.7 1.1,0.9 -1.1,0.9" fill="#3a70cc" transform="translate(542.5,187.6) rotate(0)"/>
<polygon points="0,-1.7 1.1,0.9 -1.1,0.9" fill="#3a70cc" transform="translate(542.5,203.6) rotate(0)"/>
<polygon points="0,-1.7 1.1,0.9 -1.1,0.9" fill="#3a70cc" transform="translate(526.5,227.4) rotate(60)"/>
</g>
</svg></body></html>
